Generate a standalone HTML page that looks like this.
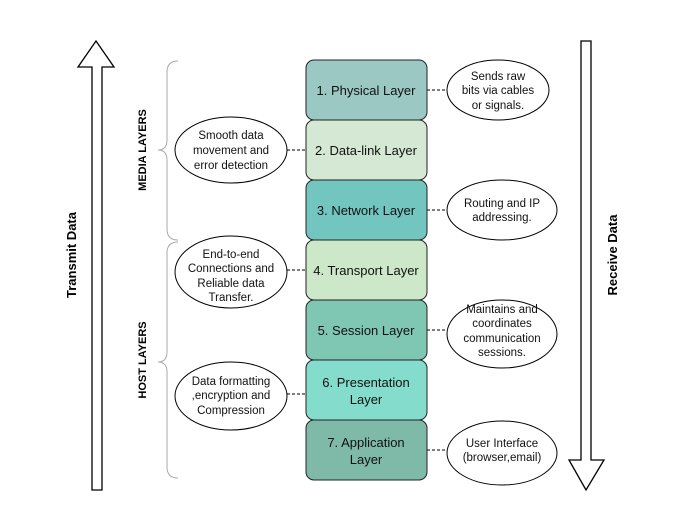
<!DOCTYPE html>
<html><head><style>body{margin:0;background:#fff}svg text{font-family:"Liberation Sans",Arial,sans-serif}</style></head><body>
<svg width="686" height="517" xmlns="http://www.w3.org/2000/svg" style="font-family:'Liberation Sans',Arial,sans-serif">
<g stroke="#000" stroke-width="1.3" fill="#fff">
<path d="M92,490 L92,67 L78,67 L96,41 L114,67 L102,67 L102,490 Z"/>
<path d="M581,41 L591,41 L591,460 L604,460 L586,490 L569,460 L581,460 Z"/>
</g>
<text transform="translate(76,255) rotate(-90)" text-anchor="middle" font-size="13" font-weight="bold">Transmit Data</text>
<text transform="translate(617,255) rotate(-90)" text-anchor="middle" font-size="13" font-weight="bold">Receive Data</text>
<text transform="translate(146,150) rotate(-90)" text-anchor="middle" font-size="11" font-weight="bold">MEDIA LAYERS</text>
<text transform="translate(146,360) rotate(-90)" text-anchor="middle" font-size="11" font-weight="bold">HOST LAYERS</text>
<g fill="none" stroke="#aaa" stroke-width="1">
<path d="M178,61 Q167,61 167,72 L167,140 Q167,150 158,150 Q167,150 167,160 L167,229 Q167,240 178,240"/>
<path d="M178,242 Q167,242 167,253 L167,352 Q167,362 158,362 Q167,362 167,372 L167,467 Q167,478 178,478"/>
</g>
<g stroke="#000" stroke-width="1" stroke-dasharray="3,2">
<line x1="427" y1="90" x2="447" y2="90"/><line x1="287" y1="150" x2="306" y2="150"/>
<line x1="427" y1="210" x2="447" y2="210"/><line x1="287" y1="270" x2="306" y2="270"/>
<line x1="427" y1="330" x2="447" y2="330"/><line x1="287" y1="394" x2="306" y2="394"/>
<line x1="427" y1="450" x2="447" y2="450"/>
</g>
<g stroke="#222" stroke-width="1">
<rect x="306" y="60" width="121" height="60" rx="8" fill="#9bc8c2"/>
<rect x="306" y="120" width="121" height="60" rx="8" fill="#d5e8d4"/>
<rect x="306" y="180" width="121" height="60" rx="8" fill="#73c6c0"/>
<rect x="306" y="240" width="121" height="60" rx="8" fill="#cce8c8"/>
<rect x="306" y="300" width="121" height="60" rx="8" fill="#7fc7b3"/>
<rect x="306" y="360" width="121" height="60" rx="8" fill="#84ddcc"/>
<rect x="306" y="420" width="121" height="60" rx="8" fill="#7fbaa8"/>
</g>
<g font-size="13" text-anchor="middle" fill="#111">
<text x="366" y="95">1. Physical Layer</text>
<text x="366" y="155">2. Data-link Layer</text>
<text x="366" y="215">3. Network Layer</text>
<text x="366" y="275">4. Transport Layer</text>
<text x="366" y="335">5. Session Layer</text>
<text x="366" y="387">6. Presentation</text><text x="366" y="404">Layer</text>
<text x="366" y="447">7. Application</text><text x="366" y="464">Layer</text>
</g>
<g stroke="#000" stroke-width="1" fill="#fff">
<ellipse cx="231" cy="150" rx="56" ry="33"/>
<ellipse cx="231" cy="272" rx="56" ry="36"/>
<ellipse cx="231" cy="396" rx="56" ry="34"/>
<ellipse cx="498" cy="90" rx="51" ry="30"/>
<ellipse cx="502" cy="210" rx="55" ry="30"/>
<ellipse cx="502" cy="334" rx="55" ry="34"/>
<ellipse cx="502" cy="453" rx="55" ry="32"/>
</g>
<g font-size="11.5" text-anchor="middle" fill="#111">
<text x="231" y="139">Smooth data</text><text x="231" y="154">movement and</text><text x="231" y="169">error detection</text>
<text x="231" y="258">End-to-end</text><text x="231" y="272">Connections and</text><text x="231" y="287">Reliable data</text><text x="231" y="301">Transfer.</text>
<text x="231" y="385">Data formatting</text><text x="231" y="399">,encryption and</text><text x="231" y="414">Compression</text>
<text x="498" y="80">Sends raw</text><text x="498" y="94">bits via cables</text><text x="498" y="109">or signals.</text>
<text x="502" y="207">Routing and IP</text><text x="502" y="221">addressing.</text>
<text x="502" y="313">Maintains and</text><text x="502" y="327">coordinates</text><text x="502" y="342">communication</text><text x="502" y="356">sessions.</text>
<text x="502" y="447">User Interface</text><text x="502" y="461">(browser,email)</text>
</g>
</svg>
</body></html>
